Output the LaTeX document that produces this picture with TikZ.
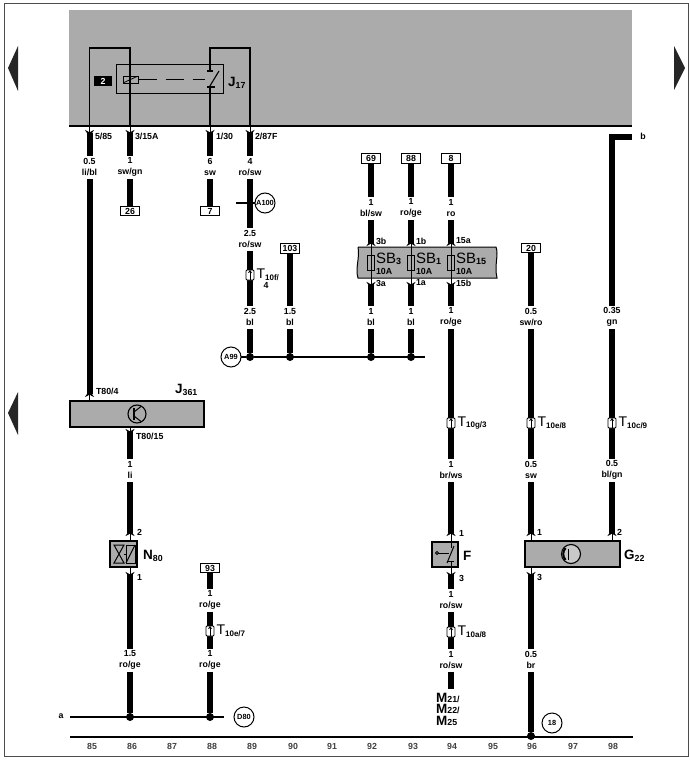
\documentclass[tikz,border=0pt]{standalone}
\usepackage{fontspec}
\setmainfont{Liberation Sans}
\usetikzlibrary{arrows.meta,positioning}
\definecolor{pnlgray}{HTML}{ABABAB}
\newcommand{\clbl}[2]{{\fontsize{13.5}{13.5}\selectfont\bfseries #1}\raisebox{-1.5pt}{\fontsize{8.8}{8.8}\selectfont\bfseries #2}}
\newcommand{\mlbl}[2]{{\fontsize{13.5}{13.5}\selectfont\bfseries #1}{\fontsize{8.8}{8.8}\selectfont\bfseries #2}}
\newcommand{\tlbl}[2]{{\fontsize{14}{14}\selectfont #1}\raisebox{-1.5pt}{\fontsize{8}{8}\selectfont\bfseries #2}}
\newcommand{\sblbl}[2]{{\fontsize{15}{15}\selectfont #1}\raisebox{-1pt}{\fontsize{9}{9}\selectfont\bfseries #2}}
\tikzset{
  base_t/.style = {inner sep=0pt, outer sep=0pt, align=center,
    font=\fontsize{8.8}{10.4}\selectfont\bfseries},
  wire_l/.style = {base_t, fill=white, inner sep=1pt, minimum height=23pt},
  pin_l/.style = {base_t, anchor=west},
  col_n/.style = {base_t, black!75},
  thin_w/.style = {line width=1.2pt},
  wire/.style = {line width=6pt},
  pin/.style = {line width=1pt, shorten >=-4pt,
    -{Stealth[length=7pt,width=9pt]}},
  pin_b/.style = {line width=1pt, shorten >=-4pt, shorten <=-4pt,
    {Stealth[length=7pt,width=9pt]}-{Stealth[length=7pt,width=9pt]}},
  panel/.style = {rectangle, fill=pnlgray, inner sep=0pt, outer sep=0pt},
  comp_b/.style = {panel, draw=black, line width=1.2pt},
  term_b/.style = {base_t, rectangle, draw=black, fill=white, line width=0.9pt,
    minimum width=19pt, minimum height=9.5pt},
  ref_c/.style = {base_t, circle, draw=black, fill=white, line width=1pt,
    minimum size=20pt, font=\fontsize{7.4}{8}\selectfont\bfseries},
  dot_n/.style = {circle, fill=black, inner sep=0pt, minimum size=8pt},
  fuse_b/.style = {rectangle, draw=black, line width=0.8pt, inner sep=0pt,
    minimum width=7pt, minimum height=15pt},
  conn_t/.style = {rectangle, draw=black, fill=white, line width=0.8pt,
    rounded corners=1pt, inner sep=0pt, minimum width=8pt, minimum height=10pt,
    path picture={\draw[line width=0.7pt,-{Stealth[length=3pt,width=4pt]}]
      (path picture bounding box.south) -- (path picture bounding box.north);}},
  tri/.style = {fill=black!85}
}
\begin{document}
\begin{tikzpicture}[x=1pt,y=-1pt]
\useasboundingbox (0,0) rectangle (690,760);
% page frame
\draw[line width=1pt,black!70] (4.5,4) rectangle (688,756);
\fill[tri] (8,68) -- (18,46) -- (18,91) -- cycle;
\fill[tri] (8,413) -- (18,392) -- (18,435) -- cycle;
\fill[tri] (685,68) -- (674,46) -- (674,90) -- cycle;

% grey panels
\node[panel, minimum width=563pt, minimum height=116pt] (pnl_top) at (350.5,68) {};
\draw[thin_w] (pnl_top.south west) -- (pnl_top.south east);
\node[comp_b, minimum width=134pt, minimum height=26pt] (j_361) at (137,414) {};
\node[comp_b, minimum width=27pt, minimum height=26pt] (n_80) at (123.5,554) {};
\node[comp_b, minimum width=26pt, minimum height=25pt] (f_sw) at (445,554.5) {};
\node[comp_b, minimum width=95pt, minimum height=26pt] (g_22) at (572.5,554) {};
\draw[panel, draw=black, line width=1pt] (358,247) -- (496,247)
  .. controls (499,255) and (494,265) .. (497,278) -- (358,278)
  .. controls (355,268) and (360,258) .. (358,247);

% wire ends
\coordinate (p85a) at (89.5,133);   \coordinate (p85b) at (89.5,394);
\coordinate (p86a) at (130,133);    \coordinate (p86b) at (130,432);
\coordinate (p86c) at (130,533);    \coordinate (p86d) at (130,575);
\coordinate (p88a) at (210,133);    \coordinate (p89a) at (250,133);
\coordinate (p92a) at (371,243);    \coordinate (p92b) at (371,285);
\coordinate (p93a) at (411,243);    \coordinate (p93b) at (411,285);
\coordinate (p94a) at (451,243);    \coordinate (p94b) at (451,285);
\coordinate (p94c) at (451,533);    \coordinate (p94d) at (451,575);
\coordinate (p94e) at (451,689);
\coordinate (p96a) at (531,533);    \coordinate (p96b) at (531,575);
\coordinate (p98a) at (612,533);    \coordinate (c_b) at (632,137);

% relay J17
\node[rectangle, draw=black, line width=1pt, minimum width=107pt, minimum height=28pt,
  inner sep=0pt] (j_17) at (169.5,79) {};
\coordinate (lp85) at (89.5,48);  \coordinate (lp86) at (130,48);
\coordinate (lp88) at (210,48);   \coordinate (lp89) at (250,48);
\coordinate (sw_t) at (210,71);   \coordinate (sw_b) at (210,87);
\draw[thin_w] (pnl_top.south -| lp85) -- (lp85) -- (lp86) -- (pnl_top.south -| lp86);
\draw[thin_w] (sw_t) -- (lp88) -- (lp89) -- (pnl_top.south -| lp89);
\draw[thin_w] (sw_b) -- (pnl_top.south -| lp88);
\node[rectangle, draw=black, line width=1pt, minimum width=15pt, minimum height=7pt,
  inner sep=0pt, path picture={\draw[line width=0.8pt]
    (path picture bounding box.south west) -- (path picture bounding box.north east);}]
  (coil_j) at (130.5,79.5) {};
\draw[line width=0.9pt, dash pattern=on 18pt off 9pt] (coil_j.east) -- (205,79.5);
\draw[line width=1.1pt] (sw_t) ++(-3,0) -- ++(6,0);
\draw[line width=1.1pt] (sw_b) ++(-3,0) -- ++(8,0);
\draw[line width=1.1pt] (209,87.5) -- (219,71);
\node[rectangle, fill=black, text=white, base_t, minimum width=18pt, minimum height=10pt]
  (n_2) at (103,81) {2};
\node[anchor=west, inner sep=0pt] (l_j17) at (228,83) {\clbl{J}{17}};

% terminals
\node[term_b] (b26) at (130,211) {26};
\node[term_b] (b7) at (210,211) {7};
\node[term_b] (b103) at (290,248.5) {103};
\node[term_b] (b69) at (371,158.5) {69};
\node[term_b] (b88) at (411,158.5) {88};
\node[term_b] (b8) at (451,158.5) {8};
\node[term_b] (b20) at (531,248) {20};
\node[term_b] (b93) at (210,568) {93};

% earth lines and dots
\node[dot_n] (d89) at (250,357) {};
\node[dot_n] (d90) at (290,357) {};
\node[dot_n] (d92) at (371,357) {};
\node[dot_n] (d93) at (411,357) {};
\coordinate (e_a99) at (425,357);
\draw[thin_w] (d89) -- (e_a99);
\node[dot_n] (d86) at (130,717) {};
\node[dot_n] (d88) at (210,717) {};
\coordinate (e_al) at (70,717);
\coordinate (e_ar) at (224,717);
\draw[thin_w] (e_al) -- (e_ar);
\node[dot_n] (d96) at (531,736) {};
\coordinate (e_bl) at (70,737);
\coordinate (e_br) at (633,737);
\draw[thin_w] (e_bl) -- (e_br);
\node[dot_n, minimum size=3pt] (d_a100) at (250,203) {};
\coordinate (e_100) at (236,203);

% wires
\draw[wire] (p85a) -- (p85b);
\draw[wire] (p86a) -- (b26.north);
\draw[wire] (p88a) -- (b7.north);
\draw[wire] (p89a) -- (d89);
\draw[wire] (b103.south) -- (d90);
\draw[wire] (b69.south) -- (p92a);
\draw[wire] (p92b) -- (d92);
\draw[wire] (b88.south) -- (p93a);
\draw[wire] (p93b) -- (d93);
\draw[wire] (b8.south) -- (p94a);
\draw[wire] (p94b) -- (p94c);
\draw[wire] (p94d) -- (p94e);
\draw[wire] (b20.south) -- (p96a);
\draw[wire] (p96b) -- (d96);
\draw[wire] (c_b) -| (p98a);
\draw[wire] (p86b) -- (p86c);
\draw[wire] (p86d) -- (d86);
\draw[wire] (b93.south) -- (d88);

% pins
\draw[pin] (pnl_top.south -| p85a) -- (p85a);
\draw[pin] (pnl_top.south -| p86a) -- (p86a);
\draw[pin] (pnl_top.south -| p88a) -- (p88a);
\draw[pin] (pnl_top.south -| p89a) -- (p89a);
\draw[pin] (j_361.north -| p85b) -- (p85b);
\draw[pin] (j_361.south -| p86b) -- (p86b);
\draw[pin] (n_80.north -| p86c) -- (p86c);
\draw[pin] (n_80.south -| p86d) -- (p86d);
\draw[pin] (f_sw.north -| p94c) -- (p94c);
\draw[pin] (f_sw.south -| p94d) -- (p94d);
\draw[pin] (g_22.north -| p96a) -- (p96a);
\draw[pin] (g_22.south -| p96b) -- (p96b);
\draw[pin] (g_22.north -| p98a) -- (p98a);
\draw[pin_b] (p92a) -- (p92b);
\draw[pin_b] (p93a) -- (p93b);
\draw[pin_b] (p94a) -- (p94b);

% fuses
\node[fuse_b] (fu3) at (371,262.5) {};
\node[fuse_b] (fu1) at (411,262.5) {};
\node[fuse_b] (fu15) at (451,262.5) {};
\node[anchor=west, inner sep=0pt] (sb3) at (376,259) {\sblbl{SB}{3}};
\node[anchor=west, inner sep=0pt] (sb1) at (416,259) {\sblbl{SB}{1}};
\node[anchor=west, inner sep=0pt] (sb15) at (456,259) {\sblbl{SB}{15}};
\node[base_t, anchor=west] (a3) at (376,271) {10A};
\node[base_t, anchor=west] (a1) at (416,271) {10A};
\node[base_t, anchor=west] (a15) at (456,271) {10A};

% wire labels
\node[wire_l] (l85a) at (89.5,167) {0.5\\li/bl};
\node[wire_l] (l86a) at (130,167) {1\\sw/gn};
\node[wire_l] (l88a) at (210,167) {6\\sw};
\node[wire_l] (l89a) at (250,167) {4\\ro/sw};
\node[wire_l] (l89b) at (250,239) {2.5\\ro/sw};
\node[wire_l] (l89c) at (250,317) {2.5\\bl};
\node[wire_l] (l90a) at (290,317) {1.5\\bl};
\node[wire_l] (l92a) at (371,208) {1\\bl/sw};
\node[wire_l] (l92b) at (371,317) {1\\bl};
\node[wire_l] (l93a) at (411,208) {1\\ro/ge};
\node[wire_l] (l93b) at (411,317) {1\\bl};
\node[wire_l] (l94a) at (451,208) {1\\ro};
\node[wire_l] (l94b) at (451,317) {1\\ro/ge};
\node[wire_l] (l94c) at (451,470) {1\\br/ws};
\node[wire_l] (l94d) at (451,600) {1\\ro/sw};
\node[wire_l] (l94e) at (451,660) {1\\ro/sw};
\node[wire_l] (l96a) at (531,317) {0.5\\sw/ro};
\node[wire_l] (l96b) at (531,470) {0.5\\sw};
\node[wire_l] (l96c) at (531,660) {0.5\\br};
\node[wire_l] (l98a) at (612,317) {0.35\\gn};
\node[wire_l] (l98b) at (612,470) {0.5\\bl/gn};
\node[wire_l] (l86b) at (130,470) {1\\li};
\node[wire_l] (l86c) at (130,660) {1.5\\ro/ge};
\node[wire_l] (l88b) at (210,600) {1\\ro/ge};
\node[wire_l] (l88c) at (210,660) {1\\ro/ge};

% pin labels
\node[pin_l] at (95,136) {5/85};
\node[pin_l] at (135,136) {3/15A};
\node[pin_l] at (216,136) {1/30};
\node[pin_l] at (255,136) {2/87F};
\node[pin_l] at (376,241) {3b};
\node[pin_l] at (376,283) {3a};
\node[pin_l] at (416,241) {1b};
\node[pin_l] at (416,283) {1a};
\node[pin_l] at (456,241) {15a};
\node[pin_l] at (456,283) {15b};
\node[pin_l] at (96,391) {T80/4};
\node[pin_l] at (136,436) {T80/15};
\node[pin_l] at (137,532) {2};
\node[pin_l] at (137,577) {1};
\node[pin_l] at (459,533) {1};
\node[pin_l] at (459,578) {3};
\node[pin_l] at (537,532) {1};
\node[pin_l] at (537,577) {3};
\node[pin_l] at (617,532) {2};

% plug connectors
\node[conn_t] (t_10f) at (250,275) {};
\node[conn_t] (t_10g) at (451,423) {};
\node[conn_t] (t_10e) at (531,423) {};
\node[conn_t] (t_10c) at (612,423) {};
\node[conn_t] (t_10e7) at (210,631) {};
\node[conn_t] (t_10a) at (451,632) {};
\node[inner sep=0pt, right=2pt of t_10f] (tl_10f) {\tlbl{T}{10f/}};
\node[base_t, anchor=north] at (266,282) {4};
\node[inner sep=0pt, right=2pt of t_10g] (tl_10g) {\tlbl{T}{10g/3}};
\node[inner sep=0pt, right=2pt of t_10e] (tl_10e) {\tlbl{T}{10e/8}};
\node[inner sep=0pt, right=2pt of t_10c] (tl_10c) {\tlbl{T}{10c/9}};
\node[inner sep=0pt, right=2pt of t_10e7] (tl_10e7) {\tlbl{T}{10e/7}};
\node[inner sep=0pt, right=2pt of t_10a] (tl_10a) {\tlbl{T}{10a/8}};

% reference circles
\node[ref_c] (c_a100) at (265,203) {A100};
\draw[thin_w] (e_100) -- (c_a100);
\node[ref_c] (c_a99) at (231,357) {A99};
\draw[thin_w] (c_a99) -- (d89);
\node[ref_c] (c_d80) at (244,717) {D80};
\node[ref_c] (c_18) at (552,723) {18};

% J361 symbol
\node[circle, draw=black, line width=1.1pt, minimum size=18pt, inner sep=0pt] (tr_j) at (137,414) {};
\draw[line width=1.3pt] (134,408) -- (134,420);
\draw[line width=1pt] (134,412) -- (141,406.5);
\draw[line width=1pt] (134,416) -- (141,421.5);
\node[anchor=west, inner sep=0pt] (l_j361) at (175,390) {\clbl{J}{361}};

% N80 symbol
\draw[line width=1pt] (114,545) -- (124,545) -- (114,563) -- (124,563) -- cycle;
\draw[line width=1pt] (124,554) -- (126,554);
\draw[line width=1pt] (126,545) rectangle (135,563);
\draw[line width=1pt] (126,563) -- (135,545);
\node[anchor=west, inner sep=0pt] (l_n80) at (143,556) {\clbl{N}{80}};

% F symbol
\draw[line width=1pt] (f_sw.north -| p94c) -- (451,548);
\draw[line width=1pt] (f_sw.south -| p94c) -- (451,561);
\draw[line width=1pt] (447,563) -- (454,546);
\draw[line width=1pt] (438,553) -- (449,553);
\draw[line width=1pt] (437,553) circle (1.5);
\draw[line width=1pt] (448,561) -- (454,561);
\node[anchor=west, inner sep=0pt] (l_f) at (463,556) {{\fontsize{13.5}{13.5}\selectfont\bfseries F}};

% G22 symbol
\node[circle, draw=black, line width=1.1pt, fill=white, fill opacity=0.35, minimum size=19pt, inner sep=0pt] (gu_c) at (571,554) {};
\draw[line width=2pt] (565.5,548) .. controls (562.5,552) and (562.5,556) .. (565.5,560);
\draw[line width=1.2pt] (568.5,549) -- (568.5,560);
\node[anchor=west, inner sep=0pt] (l_g22) at (624,556) {\clbl{G}{22}};

% M labels
\node[anchor=base west, inner sep=0pt] (l_m21) at (436,702) {\mlbl{M}{21/}};
\node[anchor=base west, inner sep=0pt] (l_m22) at (436,713.5) {\mlbl{M}{22/}};
\node[anchor=base west, inner sep=0pt] (l_m25) at (436,725) {\mlbl{M}{25}};

% line letters
\node[base_t] (l_a) at (61,716) {a};
\node[base_t] (l_b) at (643,136) {b};

% column numbers
\node[col_n] at (92,746) {85};
\node[col_n] at (132,746) {86};
\node[col_n] at (172,746) {87};
\node[col_n] at (212,746) {88};
\node[col_n] at (252,746) {89};
\node[col_n] at (293,746) {90};
\node[col_n] at (332,746) {91};
\node[col_n] at (372,746) {92};
\node[col_n] at (413,746) {93};
\node[col_n] at (452,746) {94};
\node[col_n] at (493,746) {95};
\node[col_n] at (532,746) {96};
\node[col_n] at (573,746) {97};
\node[col_n] at (613,746) {98};
\end{tikzpicture}
\end{document}
